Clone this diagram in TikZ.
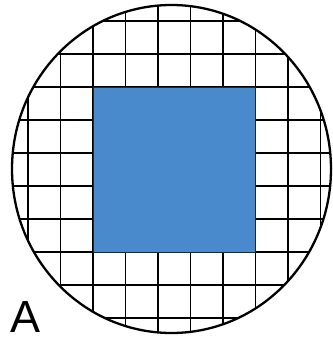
\documentclass[tikz,border=0pt]{standalone}
\usepackage{fontspec}
\setsansfont{Liberation Sans}
\usepackage{xcolor}
\usetikzlibrary{positioning}
\definecolor{azul}{RGB}{72,138,204}
\tikzset{
  rejilla/.style={black,line width=1.4pt},
  borde/.style={black,line width=2.3pt},
  cuadro/.style={fill=azul,draw=black!70!azul,line width=0.9pt},
  etiqueta/.style={font=\sffamily\fontsize{45}{45}\selectfont,inner sep=0pt,text depth=0pt,anchor=south west}
}
\begin{document}
\begin{tikzpicture}[x=1pt,y=-1pt]
\useasboundingbox (0,0) rectangle (332,339);
% rejilla dentro del circulo
\begin{scope}
\clip (171.5,169) ellipse (159.5 and 164);
\foreach \i in {-2,...,7} \draw[rejilla] (93+32.5*\i,0) -- (93+32.5*\i,339);
\foreach \j in {-2,...,7} \draw[rejilla] (0,87+33*\j) -- (332,87+33*\j);
\end{scope}
% cuadrado azul
\draw[cuadro] (93,87) rectangle (255.5,252);
% circulo
\draw[borde] (171.5,169) ellipse (159.5 and 164);
\node[etiqueta] (A) at (10,333) {A};
\end{tikzpicture}
\end{document}
